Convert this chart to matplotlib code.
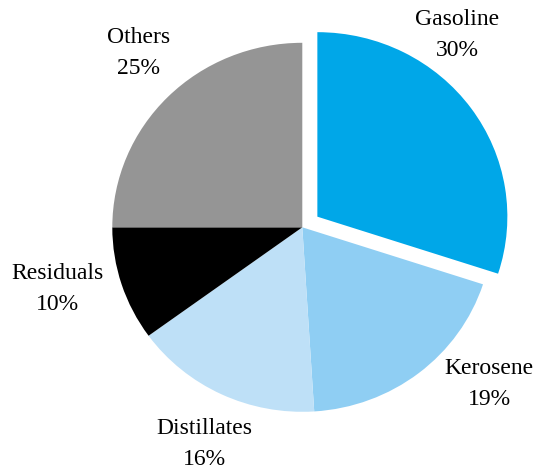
import matplotlib
matplotlib.use("Agg")
import matplotlib.pyplot as plt

categories = ["Gasoline", "Kerosene", "Distillates", "Residuals", "Others"]
shares = [30, 19, 16, 10, 25]
colors = ["#00A7E8", "#8FCEF3", "#BEE0F7", "#000000", "#959595"]
explode = [0.098, 0, 0, 0, 0]
label_pos = [(457, 35), (489, 384), (204, 444), (57, 289), (139, 53)]

W, H = 534, 470
fig = plt.figure(figsize=(W / 100, H / 100), dpi=100)
ax = fig.add_axes([0, 0, 1, 1])

# pixel geometry of the pie (slightly wider than tall, as in the reference)
cx_px, cy_px, rx_px, ry_px = 302.3, 227.3, 190.0, 184.5

ax.pie(shares, colors=colors, explode=explode, startangle=90, counterclock=False,
       center=(0, 0), radius=1, frame=True, wedgeprops=dict(linewidth=0))
ax.set_aspect("auto")
ax.set_xlim(-cx_px / rx_px, (W - cx_px) / rx_px)
ax.set_ylim(-(H - cy_px) / ry_px, cy_px / ry_px)
ax.axis("off")

for name, val, (px, py) in zip(categories, shares, label_pos):
    fig.text(px / W, 1 - py / H, f"{name}\n{val}%", ha="center", va="center",
             fontsize=17, family="Liberation Serif", linespacing=1.65)

fig.savefig("out.png", dpi=100)
